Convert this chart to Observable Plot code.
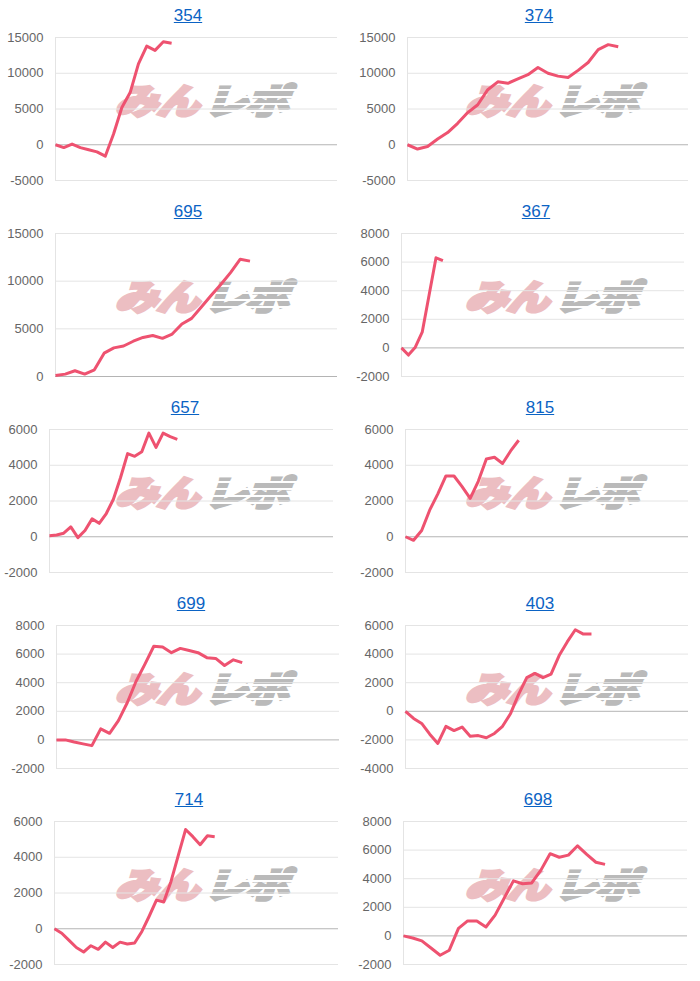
<!DOCTYPE html>
<html>
<head>
<meta charset="utf-8">
<script src="https://cdn.jsdelivr.net/npm/d3@7"></script>
<script src="https://cdn.jsdelivr.net/npm/@observablehq/plot@0.6"></script>
<style>
  body { margin: 0; background: #fff; }
  #grid { position: relative; width: 700px; height: 981px; overflow: hidden; }
  .cell { position: absolute; width: 350px; height: 196px; }
  .cell svg { position: absolute; left: 0; top: 0; }
  .title { position: absolute; top: 6px; line-height: 22px; font: 17px "Liberation Sans", Arial, sans-serif;
           color: #0b63c4; text-decoration: underline; transform: translateX(-50%); white-space: nowrap; }
  .wm { position: absolute; transform: translate(-50%, -50%) scaleX(1.22) skewX(-16deg); white-space: nowrap;
        font-family: "Noto Sans CJK JP", sans-serif; font-weight: 900; font-size: 35px; line-height: 36px; letter-spacing: -1px; }
  .wm .a { color: rgb(236, 190, 194); -webkit-text-stroke: 3px rgb(236, 190, 194); }
  .wm .b { position: relative; display: inline-block; color: rgb(186, 186, 186); -webkit-text-stroke: 3px rgb(186, 186, 186); margin-left: 5px; }
  .wm .b::after { content: ""; position: absolute; left: -4px; right: -4px; top: 3px; bottom: 3px; z-index: 1;
        background: repeating-linear-gradient(to bottom, rgba(255,255,255,0) 0 5px, #fff 5px 7px); }
</style>
</head>
<body>
<div id="grid"></div>
<script>
// ---- data ----
const machines = ["354", "374", "695", "367", "657", "815", "699", "403", "714", "698"];
const v354 = [0, -400, 100, -400, -700, -1000, -1600, 1500, 5200, 7300, 11300, 13800, 13200, 14400, 14200];
const v374 = [0, -600, -250, 800, 1700, 3000, 4500, 5600, 7700, 8800, 8600, 9200, 9800, 10800, 10000, 9600, 9400, 10400, 11500, 13300, 14000, 13700];
const v695 = [100, 250, 600, 250, 700, 2450, 3000, 3200, 3700, 4100, 4300, 4000, 4450, 5500, 6100, 7300, 8500, 9650, 10900, 12300, 12100];
const v367 = [0, -500, 50, 1100, 3700, 6300, 6100];
const v657 = [50, 100, 200, 550, -50, 350, 1000, 750, 1300, 2100, 3300, 4650, 4500, 4750, 5800, 5000, 5800, 5600, 5450];
const v815 = [0, -200, 350, 1500, 2400, 3400, 3400, 2800, 2150, 3100, 4350, 4450, 4100, 4800, 5400];
const v699 = [0, 0, -150, -280, -400, 770, 460, 1350, 2600, 4100, 5300, 6550, 6500, 6100, 6400, 6250, 6100, 5750, 5700, 5200, 5600, 5400];
const v403 = [0, -500, -850, -1600, -2250, -1050, -1350, -1100, -1750, -1700, -1850, -1550, -1050, -150, 1200, 2350, 2650, 2350, 2600, 3900, 4850, 5700, 5400, 5400];
const v714 = [0, -250, -650, -1050, -1300, -950, -1150, -750, -1050, -750, -850, -800, -150, 700, 1600, 1500, 2650, 4100, 5550, 5150, 4700, 5200, 5150];
const v698 = [0, -150, -350, -850, -1350, -1000, 530, 1050, 1050, 620, 1450, 2650, 3850, 3650, 3700, 4600, 5750, 5500, 5650, 6300, 5700, 5150, 5000];
const series = [v354, v374, v695, v367, v657, v815, v699, v403, v714, v698];
// number of x slots on each chart's category axis
const slots = [34, 28, 29, 41, 40, 35, 32, 35, 39, 31];
const yTicks = [
  [-5000, 0, 5000, 10000, 15000],
  [-5000, 0, 5000, 10000, 15000],
  [0, 5000, 10000, 15000],
  [-2000, 0, 2000, 4000, 6000, 8000],
  [-2000, 0, 2000, 4000, 6000],
  [-2000, 0, 2000, 4000, 6000],
  [-2000, 0, 2000, 4000, 6000, 8000],
  [-4000, -2000, 0, 2000, 4000, 6000],
  [-2000, 0, 2000, 4000, 6000],
  [-2000, 0, 2000, 4000, 6000, 8000]
];
const watermarkA = "みん";
const watermarkB = "レポ";

// ---- layout (not data) ----
const marginLeft  = [55, 57, 55, 51, 49, 55, 56, 55, 54, 53];
const marginRight = [13, 12, 13, 16, 17, 12, 11, 12, 12, 13];
const titleX      = [188, 189, 188, 186, 185, 190, 191, 190, 189, 188];
const lineColor = "rgb(238, 82, 112)";

const grid = document.getElementById("grid");
machines.forEach((name, i) => {
  const col = i % 2, row = Math.floor(i / 2);
  const cell = document.createElement("div");
  cell.className = "cell";
  cell.style.left = (col * 350) + "px";
  cell.style.top = (row * 196) + "px";

  const wm = document.createElement("div");
  wm.className = "wm";
  wm.style.left = "206px";
  wm.style.top = "99px";
  wm.innerHTML = `<span class="a">${watermarkA}</span><span class="b">${watermarkB}</span>`;
  cell.appendChild(wm);

  const data = series[i].map((v, k) => ({k, v}));
  const ticks = yTicks[i];
  const svg = Plot.plot({
    width: 350,
    height: 196,
    marginTop: 37,
    marginBottom: 16,
    marginLeft: marginLeft[i],
    marginRight: marginRight[i],
    style: {background: "transparent", fontSize: "13px", fontFamily: "'Liberation Sans', Arial, sans-serif", color: "#666"},
    x: {domain: [0, slots[i]], axis: null},
    y: {domain: [ticks[0], ticks[ticks.length - 1]], ticks, tickSize: 0, tickPadding: 12, tickFormat: d => String(d), label: null},
    marks: [
      Plot.ruleY(ticks.filter(t => t !== 0), {stroke: "#e4e4e4", strokeWidth: 1}),
      Plot.ruleX([0], {stroke: "#e4e4e4", strokeWidth: 1}),
      Plot.ruleY([0], {stroke: "#b4b4b4", strokeWidth: 1}),
      Plot.line(data, {x: "k", y: "v", stroke: lineColor, strokeWidth: 3, strokeLinejoin: "round", strokeLinecap: "butt"})
    ]
  });
  cell.appendChild(svg);

  const t = document.createElement("a");
  t.className = "title";
  t.href = "#";
  t.textContent = name;
  t.style.left = titleX[i] + "px";
  cell.appendChild(t);

  grid.appendChild(cell);
});
</script>
</body>
</html>
